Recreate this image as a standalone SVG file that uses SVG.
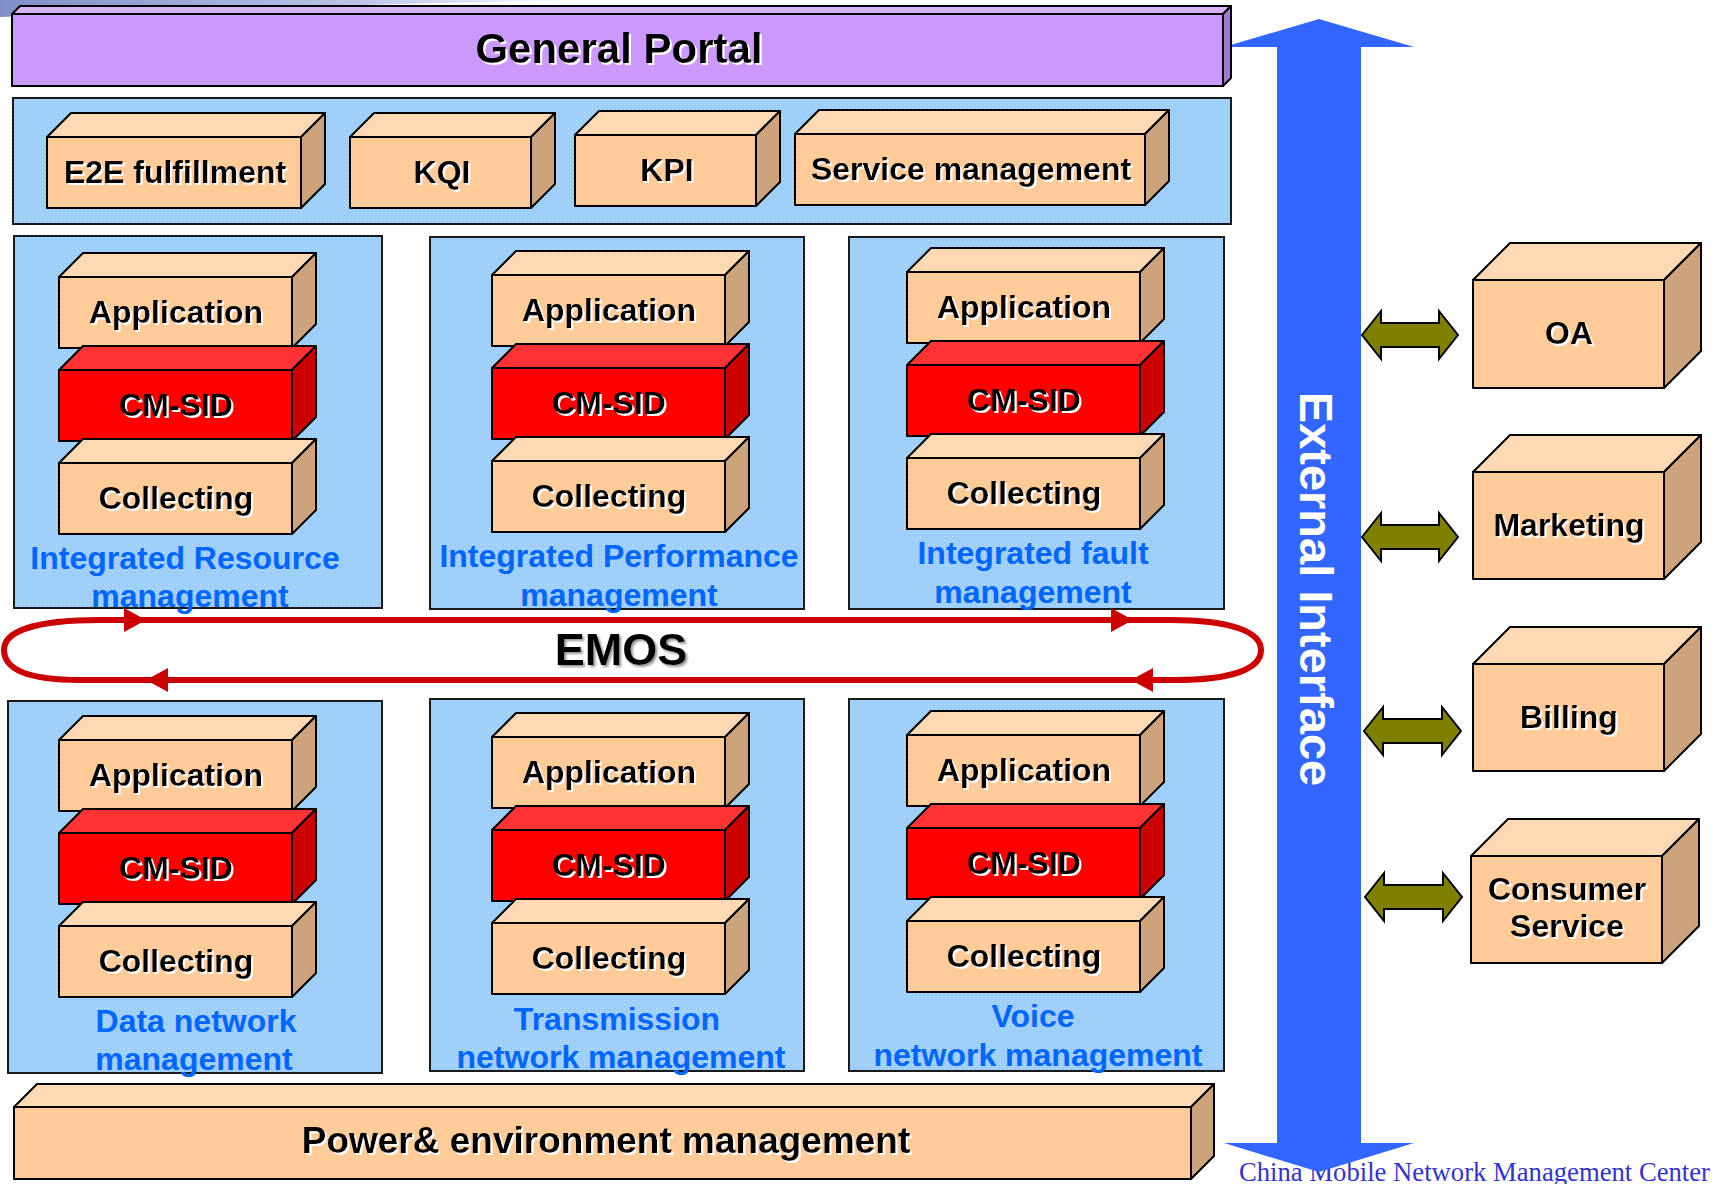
<svg xmlns="http://www.w3.org/2000/svg" width="1718" height="1184" viewBox="0 0 1718 1184">
<defs>
<linearGradient id="sw" x1="0" y1="0" x2="1" y2="0">
<stop offset="0" stop-color="#7f90c8"/>
<stop offset="0.6" stop-color="#b8c3e6"/>
<stop offset="1" stop-color="#ffffff"/>
</linearGradient>
<pattern id="dots" width="4" height="4" patternUnits="userSpaceOnUse">
<rect width="4" height="4" fill="#99ccff"/>
<rect x="0" y="0" width="1" height="1" fill="#c8e2ff"/>
<rect x="2" y="2" width="1" height="1" fill="#c8e2ff"/>
</pattern>
<filter id="sh" x="-5%" y="-10%" width="110%" height="130%">
<feDropShadow dx="2" dy="2" stdDeviation="0.3" flood-color="#ffffff"/>
</filter>
<filter id="shg" x="-5%" y="-10%" width="110%" height="130%">
<feDropShadow dx="2" dy="2" stdDeviation="1" flood-color="#999999"/>
</filter>
<style>
.pf{fill:#FFCC99;stroke:#000;stroke-width:2;stroke-linejoin:round}
.pt{fill:#FFD9B3;stroke:#000;stroke-width:2;stroke-linejoin:round}
.ps{fill:#CCA37A;stroke:#000;stroke-width:2;stroke-linejoin:round}
.rf{fill:#FF0000;stroke:#000;stroke-width:2;stroke-linejoin:round}
.rt{fill:#FF3333;stroke:#000;stroke-width:2;stroke-linejoin:round}
.rs{fill:#CC0000;stroke:#000;stroke-width:2;stroke-linejoin:round}
.panel{fill:url(#dots);stroke:#1a1a1a;stroke-width:2}
.t{font-family:"Liberation Sans",Arial,sans-serif;font-weight:bold;fill:#000;text-anchor:middle;filter:url(#sh)}
.b32{font-size:32px}
.lb{font-family:"Liberation Sans",Arial,sans-serif;font-weight:bold;font-size:32px;fill:#0066FF;text-anchor:middle}
.dbl{fill:#808000;stroke:#000;stroke-width:2;stroke-linejoin:miter}
.red{fill:#CC0000}
</style>
</defs>
<rect width="1718" height="1184" fill="#ffffff"/>
<path d="M0,0 H580 C420,3 220,8 0,17 Z" fill="url(#sw)"/>

<text x="1239" y="1181" font-family="'Liberation Serif','Times New Roman',serif" font-size="26.5" fill="#3333CC" textLength="471" lengthAdjust="spacingAndGlyphs">China Mobile Network Management Center</text>

<g id="external-interface">
<polygon points="1319,19 1414,47 1361,47 1361,1143 1414,1143 1319,1172 1224,1143 1277,1143 1277,47 1224,47" fill="#3366FF"/>
<text transform="translate(1300,589) rotate(90)" font-family="'Liberation Sans',Arial,sans-serif" font-weight="bold" font-size="47" fill="#ffffff" text-anchor="middle">External Interface</text>
</g>

<g id="general-portal">
<polygon points="12,14 20,6 1231,6 1223,14" fill="#D9B3FF" stroke="#000" stroke-width="2" stroke-linejoin="round"/>
<polygon points="1223,14 1231,6 1231,78 1223,86" fill="#A37ACC" stroke="#000" stroke-width="2" stroke-linejoin="round"/>
<rect x="12" y="14" width="1211" height="72" fill="#CC99FF" stroke="#000" stroke-width="2"/>
<text class="t" x="619" y="63" font-size="42">General Portal</text>
</g>

<g id="service-layer">
<rect class="panel" x="13" y="98" width="1218" height="126"/>
<g id="e2e" transform="translate(47,137)">
<polygon class="pt" points="0,0 24,-24 278,-24 254,0"/>
<polygon class="ps" points="254,0 278,-24 278,47 254,71"/>
<rect class="pf" x="0" y="0" width="254" height="71"/>
<text class="t b32" x="128" y="46">E2E fulfillment</text>
</g>
<g id="kqi" transform="translate(350,137)">
<polygon class="pt" points="0,0 24,-24 205,-24 181,0"/>
<polygon class="ps" points="181,0 205,-24 205,47 181,71"/>
<rect class="pf" x="0" y="0" width="181" height="71"/>
<text class="t b32" x="92" y="46">KQI</text>
</g>
<g id="kpi" transform="translate(575,135)">
<polygon class="pt" points="0,0 24,-24 205,-24 181,0"/>
<polygon class="ps" points="181,0 205,-24 205,47 181,71"/>
<rect class="pf" x="0" y="0" width="181" height="71"/>
<text class="t b32" x="92" y="46">KPI</text>
</g>
<g id="service-management" transform="translate(795,134)">
<polygon class="pt" points="0,0 24,-24 374,-24 350,0"/>
<polygon class="ps" points="350,0 374,-24 374,47 350,71"/>
<rect class="pf" x="0" y="0" width="350" height="71"/>
<text class="t b32" x="176" y="46">Service management</text>
</g>
</g>

<g id="integrated-resource">
<rect class="panel" x="14" y="236" width="368" height="372"/>
<g transform="translate(59,277)">
<polygon class="pt" points="0,0 24,-24 257,-24 233,0"/><polygon class="ps" points="233,0 257,-24 257,47 233,71"/><rect class="pf" width="233" height="71"/>
<text class="t b32" x="117" y="46">Application</text>
</g>
<g transform="translate(59,370)">
<polygon class="rt" points="0,0 24,-24 257,-24 233,0"/><polygon class="rs" points="233,0 257,-24 257,47 233,71"/><rect class="rf" width="233" height="71"/>
<text class="t b32" x="117" y="46">CM-SID</text>
</g>
<g transform="translate(59,463)">
<polygon class="pt" points="0,0 24,-24 257,-24 233,0"/><polygon class="ps" points="233,0 257,-24 257,47 233,71"/><rect class="pf" width="233" height="71"/>
<text class="t b32" x="117" y="46">Collecting</text>
</g>
<text class="lb" x="185" y="569">Integrated Resource</text>
<text class="lb" x="190" y="607">management</text>
</g>

<g id="integrated-performance">
<rect class="panel" x="430" y="237" width="374" height="372"/>
<g transform="translate(492,275)">
<polygon class="pt" points="0,0 24,-24 257,-24 233,0"/><polygon class="ps" points="233,0 257,-24 257,47 233,71"/><rect class="pf" width="233" height="71"/>
<text class="t b32" x="117" y="46">Application</text>
</g>
<g transform="translate(492,368)">
<polygon class="rt" points="0,0 24,-24 257,-24 233,0"/><polygon class="rs" points="233,0 257,-24 257,47 233,71"/><rect class="rf" width="233" height="71"/>
<text class="t b32" x="117" y="46">CM-SID</text>
</g>
<g transform="translate(492,461)">
<polygon class="pt" points="0,0 24,-24 257,-24 233,0"/><polygon class="ps" points="233,0 257,-24 257,47 233,71"/><rect class="pf" width="233" height="71"/>
<text class="t b32" x="117" y="46">Collecting</text>
</g>
<text class="lb" x="619" y="567">Integrated Performance</text>
<text class="lb" x="619" y="606">management</text>
</g>

<g id="integrated-fault">
<rect class="panel" x="849" y="237" width="375" height="372"/>
<g transform="translate(907,272)">
<polygon class="pt" points="0,0 24,-24 257,-24 233,0"/><polygon class="ps" points="233,0 257,-24 257,47 233,71"/><rect class="pf" width="233" height="71"/>
<text class="t b32" x="117" y="46">Application</text>
</g>
<g transform="translate(907,365)">
<polygon class="rt" points="0,0 24,-24 257,-24 233,0"/><polygon class="rs" points="233,0 257,-24 257,47 233,71"/><rect class="rf" width="233" height="71"/>
<text class="t b32" x="117" y="46">CM-SID</text>
</g>
<g transform="translate(907,458)">
<polygon class="pt" points="0,0 24,-24 257,-24 233,0"/><polygon class="ps" points="233,0 257,-24 257,47 233,71"/><rect class="pf" width="233" height="71"/>
<text class="t b32" x="117" y="46">Collecting</text>
</g>
<text class="lb" x="1033" y="564">Integrated fault</text>
<text class="lb" x="1033" y="603">management</text>
</g>

<g id="data-network">
<rect class="panel" x="8" y="701" width="374" height="372"/>
<g transform="translate(59,740)">
<polygon class="pt" points="0,0 24,-24 257,-24 233,0"/><polygon class="ps" points="233,0 257,-24 257,47 233,71"/><rect class="pf" width="233" height="71"/>
<text class="t b32" x="117" y="46">Application</text>
</g>
<g transform="translate(59,833)">
<polygon class="rt" points="0,0 24,-24 257,-24 233,0"/><polygon class="rs" points="233,0 257,-24 257,47 233,71"/><rect class="rf" width="233" height="71"/>
<text class="t b32" x="117" y="46">CM-SID</text>
</g>
<g transform="translate(59,926)">
<polygon class="pt" points="0,0 24,-24 257,-24 233,0"/><polygon class="ps" points="233,0 257,-24 257,47 233,71"/><rect class="pf" width="233" height="71"/>
<text class="t b32" x="117" y="46">Collecting</text>
</g>
<text class="lb" x="196" y="1032">Data network</text>
<text class="lb" x="194" y="1070">management</text>
</g>

<g id="transmission-network">
<rect class="panel" x="430" y="699" width="374" height="372"/>
<g transform="translate(492,737)">
<polygon class="pt" points="0,0 24,-24 257,-24 233,0"/><polygon class="ps" points="233,0 257,-24 257,47 233,71"/><rect class="pf" width="233" height="71"/>
<text class="t b32" x="117" y="46">Application</text>
</g>
<g transform="translate(492,830)">
<polygon class="rt" points="0,0 24,-24 257,-24 233,0"/><polygon class="rs" points="233,0 257,-24 257,47 233,71"/><rect class="rf" width="233" height="71"/>
<text class="t b32" x="117" y="46">CM-SID</text>
</g>
<g transform="translate(492,923)">
<polygon class="pt" points="0,0 24,-24 257,-24 233,0"/><polygon class="ps" points="233,0 257,-24 257,47 233,71"/><rect class="pf" width="233" height="71"/>
<text class="t b32" x="117" y="46">Collecting</text>
</g>
<text class="lb" x="617" y="1030">Transmission</text>
<text class="lb" x="621" y="1068">network management</text>
</g>

<g id="voice-network">
<rect class="panel" x="849" y="699" width="375" height="372"/>
<g transform="translate(907,735)">
<polygon class="pt" points="0,0 24,-24 257,-24 233,0"/><polygon class="ps" points="233,0 257,-24 257,47 233,71"/><rect class="pf" width="233" height="71"/>
<text class="t b32" x="117" y="46">Application</text>
</g>
<g transform="translate(907,828)">
<polygon class="rt" points="0,0 24,-24 257,-24 233,0"/><polygon class="rs" points="233,0 257,-24 257,47 233,71"/><rect class="rf" width="233" height="71"/>
<text class="t b32" x="117" y="46">CM-SID</text>
</g>
<g transform="translate(907,921)">
<polygon class="pt" points="0,0 24,-24 257,-24 233,0"/><polygon class="ps" points="233,0 257,-24 257,47 233,71"/><rect class="pf" width="233" height="71"/>
<text class="t b32" x="117" y="46">Collecting</text>
</g>
<text class="lb" x="1033" y="1027">Voice</text>
<text class="lb" x="1038" y="1066">network management</text>
</g>

<g id="power-environment">
<polygon class="pt" points="14,1107 37,1084 1214,1084 1191,1107"/>
<polygon class="ps" points="1191,1107 1214,1084 1214,1156 1191,1179"/>
<rect class="pf" x="14" y="1107" width="1177" height="72"/>
<text class="t" x="606" y="1153" font-size="37">Power&amp; environment management</text>
</g>

<g id="emos">
<path d="M100,620 L1170,620 C1232,620 1261,632 1261,650 C1261,669 1232,680 1175,680 L80,680 C30,680 4,670 4,650 C4,631 36,620 100,620 Z" fill="none" stroke="#CC0000" stroke-width="6"/>
<polygon class="red" points="124,608 146,620 124,632"/>
<polygon class="red" points="1111,608 1133,620 1111,632"/>
<polygon class="red" points="168,668 146,680 168,692"/>
<polygon class="red" points="1153,668 1131,680 1153,692"/>
<text x="621" y="665" font-family="'Liberation Sans',Arial,sans-serif" font-weight="bold" font-size="45" fill="#000" text-anchor="middle" filter="url(#shg)">EMOS</text>
</g>

<g id="oa" transform="translate(1473,280)">
<polygon class="pt" points="0,0 37,-37 228,-37 191,0"/><polygon class="ps" points="191,0 228,-37 228,71 191,108"/><rect class="pf" width="191" height="108"/>
<text class="t b32" x="96" y="64">OA</text>
</g>
<g id="marketing" transform="translate(1473,472)">
<polygon class="pt" points="0,0 37,-37 228,-37 191,0"/><polygon class="ps" points="191,0 228,-37 228,70 191,107"/><rect class="pf" width="191" height="107"/>
<text class="t b32" x="96" y="64">Marketing</text>
</g>
<g id="billing" transform="translate(1473,664)">
<polygon class="pt" points="0,0 37,-37 228,-37 191,0"/><polygon class="ps" points="191,0 228,-37 228,70 191,107"/><rect class="pf" width="191" height="107"/>
<text class="t b32" x="96" y="64">Billing</text>
</g>
<g id="consumer-service" transform="translate(1471,856)">
<polygon class="pt" points="0,0 37,-37 228,-37 191,0"/><polygon class="ps" points="191,0 228,-37 228,70 191,107"/><rect class="pf" width="191" height="107"/>
<text class="t b32" x="96" y="44">Consumer</text>
<text class="t b32" x="96" y="81">Service</text>
</g>

<g id="connectors">
<path class="dbl" d="M1362,335 L1381,311 L1381,323 L1439,323 L1439,311 L1458,335 L1439,359 L1439,347 L1381,347 L1381,359 Z"/>
<path class="dbl" d="M1362,537 L1381,513 L1381,525 L1439,525 L1439,513 L1458,537 L1439,561 L1439,549 L1381,549 L1381,561 Z"/>
<path class="dbl" d="M1364,731 L1383,707 L1383,719 L1442,719 L1442,707 L1461,731 L1442,755 L1442,743 L1383,743 L1383,755 Z"/>
<path class="dbl" d="M1365,897 L1384,873 L1384,885 L1443,885 L1443,873 L1462,897 L1443,921 L1443,909 L1384,909 L1384,921 Z"/>
</g>
</svg>
